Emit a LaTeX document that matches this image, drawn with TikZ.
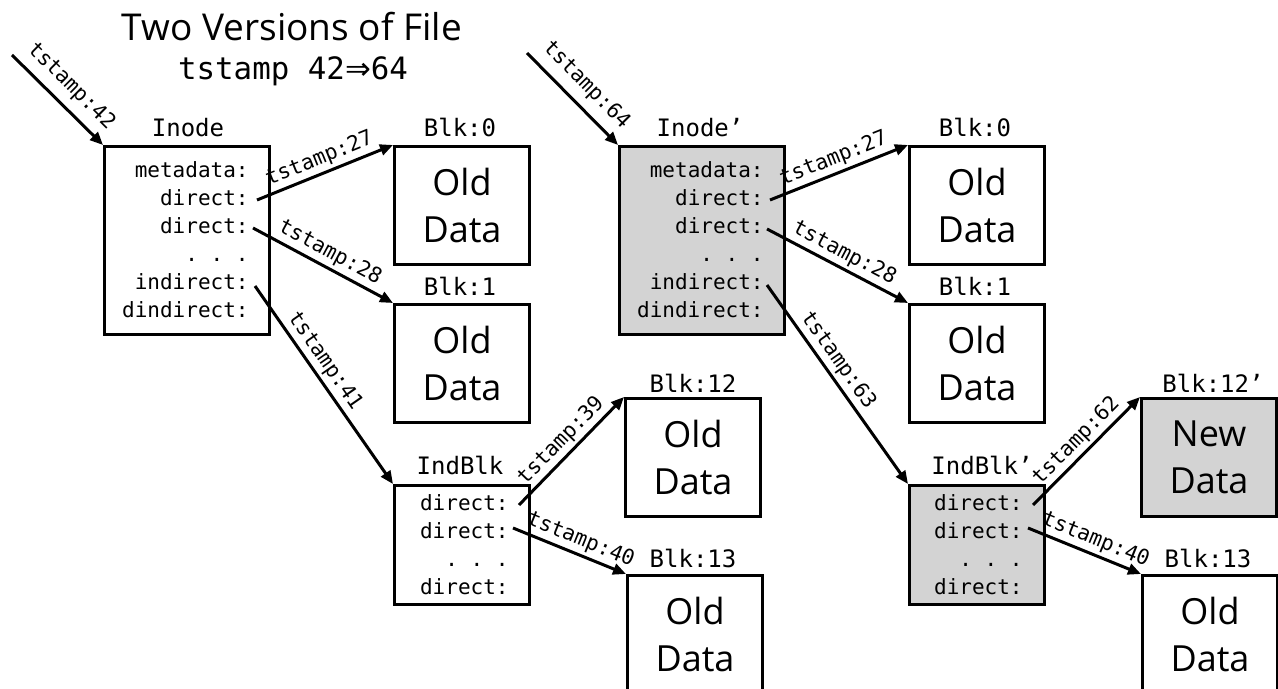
\documentclass[tikz,border=0pt]{standalone}
\usepackage{fontspec}
\setmainfont{Open Sans}
\setmonofont{DejaVu Sans Mono}
\newfontfamily\arrowfont{DejaVu Sans}
\usetikzlibrary{arrows.meta}
\definecolor{boxgray}{RGB}{211,211,211}
\begin{document}
\begin{tikzpicture}[x=0.5pt,y=-0.5pt,
  box/.style={draw, line width=1.5pt, inner sep=0pt, anchor=north west},
  databox/.style={box, minimum width=67.5pt, minimum height=59pt, align=center, font=\fontsize{18}{23.5}\selectfont},
  inodebox/.style={box, minimum width=82.5pt, minimum height=94pt},
  indbox/.style={box, minimum width=67.5pt, minimum height=59.5pt},
  newbox/.style={fill=boxgray},
  lbl/.style={anchor=base, inner sep=0pt, font=\ttfamily\fontsize{12}{14}\selectfont},
  fields/.style={anchor=east, inner sep=0pt, align=right, font=\ttfamily\fontsize{10.5}{14}\selectfont},
  ptr/.style={line width=1.5pt, -{Triangle[length=6.5pt,width=5.5pt]}},
  ts/.style={sloped, above, inner sep=1.5pt, font=\ttfamily\fontsize{10.5}{12}\selectfont},
]
\useasboundingbox (0,0) rectangle (1278,689);
\clip (0,0) rectangle (1278,689);

% titles
\node[inner sep=0pt, font=\fontsize{18.5}{20}\selectfont] (title) at (292,27) {Two Versions of File};
\node[anchor=base, inner sep=0pt, font=\ttfamily\fontsize{15.4}{18}\selectfont] (sub) at (293,80) {tstamp 42{\arrowfont ⇒}64};

% ---------- left version ----------
\node[inodebox] (inode) at (103,145) {};
\node[fields] (inodef) at (249,240) {metadata:\\direct:\\direct:\\. . .\\indirect:\\dindirect:};
\node[lbl] (inodel) at (188,137) {Inode};

\node[databox] (b0) at (393,145) {Old\\Data};
\node[lbl] (b0l) at (460,137) {Blk:0};
\node[databox] (b1) at (393,303) {Old\\Data};
\node[lbl] (b1l) at (460,296) {Blk:1};

\node[indbox] (ind) at (393,484) {};
\node[fields] (indf) at (509,545) {direct:\\direct:\\. . .\\direct:};
\node[lbl] (indl) at (460,474) {IndBlk};

\node[databox] (b12) at (624,397) {Old\\Data};
\node[lbl] (b12l) at (693,392) {Blk:12};
\node[databox] (b13) at (626,574) {Old\\Data};
\node[lbl] (b13l) at (693,567) {Blk:13};

\coordinate (in1) at (12,55);
\coordinate (i1d1) at (257,200);
\coordinate (i1d2) at (253,228);
\coordinate (i1in) at (255,286);
\coordinate (k1d1) at (519,505);
\coordinate (k1d2) at (513,528);

\draw[ptr] (in1) -- node[ts, inner sep=4pt] (t42) {tstamp:42} (inode.north west);
\draw[ptr] (i1d1) -- node[ts] (t27a) {tstamp:27} (b0.north west);
\draw[ptr] (i1d2) -- node[ts] (t28a) {tstamp:28} (b1.north west);
\draw[ptr] (i1in) -- node[ts, pos=0.42] (t41) {tstamp:41} (ind.north west);
\draw[ptr] (k1d1) -- node[ts] (t39) {tstamp:39} (b12.north west);
\draw[ptr] (k1d2) -- node[ts, pos=0.55] (t40a) {tstamp:40} (b13.north west);

% ---------- right version ----------
\node[inodebox, newbox] (inode2) at (618,145) {};
\node[fields] (inode2f) at (764,240) {metadata:\\direct:\\direct:\\. . .\\indirect:\\dindirect:};
\node[lbl] (inode2l) at (700,137) {Inode’};

\node[databox] (c0) at (908,145) {Old\\Data};
\node[lbl] (c0l) at (975,137) {Blk:0};
\node[databox] (c1) at (908,303) {Old\\Data};
\node[lbl] (c1l) at (975,296) {Blk:1};

\node[indbox, newbox] (ind2) at (908,484) {};
\node[fields] (ind2f) at (1023,545) {direct:\\direct:\\. . .\\direct:};
\node[lbl] (ind2l) at (982,474) {IndBlk’};

\node[databox, newbox] (c12) at (1140,397) {New\\Data};
\node[lbl] (c12l) at (1213,392) {Blk:12’};
\node[databox] (c13) at (1141,574) {Old\\Data};
\node[lbl] (c13l) at (1208,567) {Blk:13};

\coordinate (in2) at (527,53);
\coordinate (i2d1) at (770,200);
\coordinate (i2d2) at (767,229);
\coordinate (i2in) at (767,285);
\coordinate (k2d1) at (1033,505);
\coordinate (k2d2) at (1028,528);

\draw[ptr] (in2) -- node[ts, inner sep=4pt] (t64) {tstamp:64} (inode2.north west);
\draw[ptr] (i2d1) -- node[ts] (t27b) {tstamp:27} (c0.north west);
\draw[ptr] (i2d2) -- node[ts] (t28b) {tstamp:28} (c1.north west);
\draw[ptr] (i2in) -- node[ts, pos=0.42] (t63) {tstamp:63} (ind2.north west);
\draw[ptr] (k2d1) -- node[ts] (t62) {tstamp:62} (c12.north west);
\draw[ptr] (k2d2) -- node[ts, pos=0.55] (t40b) {tstamp:40} (c13.north west);
\end{tikzpicture}
\end{document}
